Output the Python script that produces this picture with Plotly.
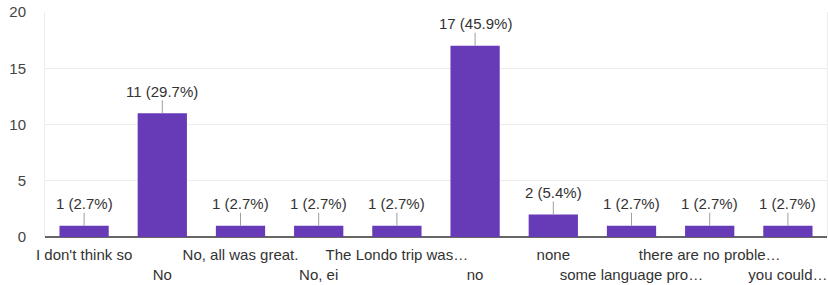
import plotly.graph_objects as go

categories = ["I don't think so", "No", "No, all was great.", "No, ei",
              "The Londo trip was…", "no", "none", "some language pro…",
              "there are no proble…", "you could…"]
counts = [1, 11, 1, 1, 1, 17, 2, 1, 1, 1]
percents = ["2.7%", "29.7%", "2.7%", "2.7%", "2.7%", "45.9%", "5.4%", "2.7%", "2.7%", "2.7%"]
y_ticks = [0, 5, 10, 15, 20]

FONT = "Liberation Sans, Arial, sans-serif"
BAR = "#673AB7"

tick_text = [c if i % 2 == 0 else "<br>" + c for i, c in enumerate(categories)]

fig = go.Figure()
fig.add_trace(go.Bar(x=categories, y=counts, marker=dict(color=BAR, line=dict(width=0)),
                     hoverinfo="skip"))

for c, v, p in zip(categories, counts, percents):
    fig.add_annotation(x=c, y=v, xref="x", yref="y", text=f"{v} ({p})",
                       showarrow=True, arrowhead=0, arrowwidth=1, arrowcolor="#9e9e9e",
                       ax=0, ay=-22, standoff=0, borderpad=0,
                       font=dict(family=FONT, size=15, color="#333333"))

fig.update_layout(
    width=828, height=285,
    margin=dict(l=45, r=1, t=12, b=48, autoexpand=False),
    paper_bgcolor="white", plot_bgcolor="white",
    bargap=0.37, showlegend=False,
    font=dict(family=FONT, size=15, color="#444444"),
)
fig.update_xaxes(tickmode="array", tickvals=categories, ticktext=tick_text, automargin=False,
                 tickfont=dict(family=FONT, size=15, color="#333333"),
                 showgrid=False, showline=False, ticks="", tickangle=0,
                 ticklabelstandoff=7)
fig.update_yaxes(range=[0, 20], tickvals=y_ticks, showgrid=True, gridcolor="#ececec",
                 automargin=False,
                 zeroline=True, zerolinecolor="#666666", zerolinewidth=1.5,
                 showline=True, linecolor="#ececec", mirror=True,
                 ticks="", ticklabelstandoff=15,
                 tickfont=dict(family=FONT, size=15, color="#444444"))

fig.write_html("out.html", config={"displayModeBar": False},
               post_script="document.body.style.margin='0';document.body.style.overflow='hidden';")
